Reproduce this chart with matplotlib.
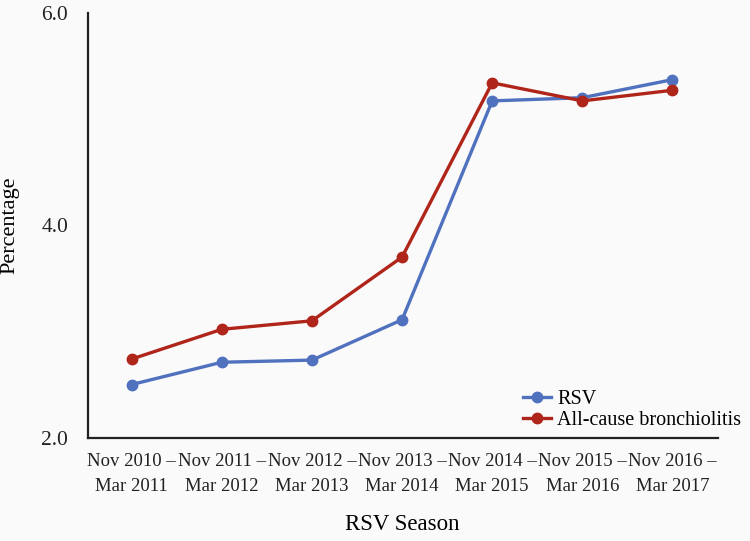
import matplotlib.pyplot as plt

# RSV seasons on the x axis
seasons = ['Nov 2010 –\nMar 2011', 'Nov 2011 –\nMar 2012', 'Nov 2012 –\nMar 2013',
           'Nov 2013 –\nMar 2014', 'Nov 2014 –\nMar 2015', 'Nov 2015 –\nMar 2016',
           'Nov 2016 –\nMar 2017']
rsv = [2.50, 2.71, 2.73, 3.11, 5.17, 5.20, 5.37]
bronchiolitis = [2.74, 3.02, 3.10, 3.70, 5.34, 5.17, 5.27]
yticks = [2.0, 4.0, 6.0]

plt.rcParams['font.family'] = ['Liberation Serif', 'DejaVu Serif']
bg = '#fafafa'

fig = plt.figure(figsize=(7.5, 5.41), dpi=100, facecolor=bg)
ax = fig.add_axes([0.1167, 0.191, 0.84, 0.7855], facecolor=bg)

x = range(len(seasons))
ax.plot(x, rsv, color='#4f71be', lw=2.4, marker='o', ms=7.5, label='RSV')
ax.plot(x, bronchiolitis, color='#b0251a', lw=2.4, marker='o', ms=7.5,
        label='All-cause bronchiolitis')

ax.set_xlim(-0.49, 6.5)
ax.set_ylim(2.0, 6.0)
ax.set_yticks(yticks)
ax.set_yticklabels([f'{v:.1f}' for v in yticks], fontsize=15.5)
ax.set_xticks(list(x))
ax.set_xticklabels(seasons, fontsize=13.5, linespacing=1.6)
ax.tick_params(axis='both', length=0, colors='#222222')
ax.tick_params(axis='y', pad=14)
ax.tick_params(axis='x', pad=11)

for s in ['top', 'right']:
    ax.spines[s].set_visible(False)
for s in ['left', 'bottom']:
    ax.spines[s].set_linewidth(1.6)
    ax.spines[s].set_color('#222222')

ax.set_ylabel('Percentage', fontsize=16, labelpad=16)
ax.set_xlabel('RSV Season', fontsize=16.5, labelpad=14)

ax.legend(loc='upper left', bbox_to_anchor=(0.684, 0.298),
          bbox_transform=fig.transFigure, frameon=False, borderpad=0,
          fontsize=14.5, handlelength=1.4, handletextpad=0.3, labelspacing=0.1)

fig.savefig('out.png', dpi=100, facecolor=bg)
